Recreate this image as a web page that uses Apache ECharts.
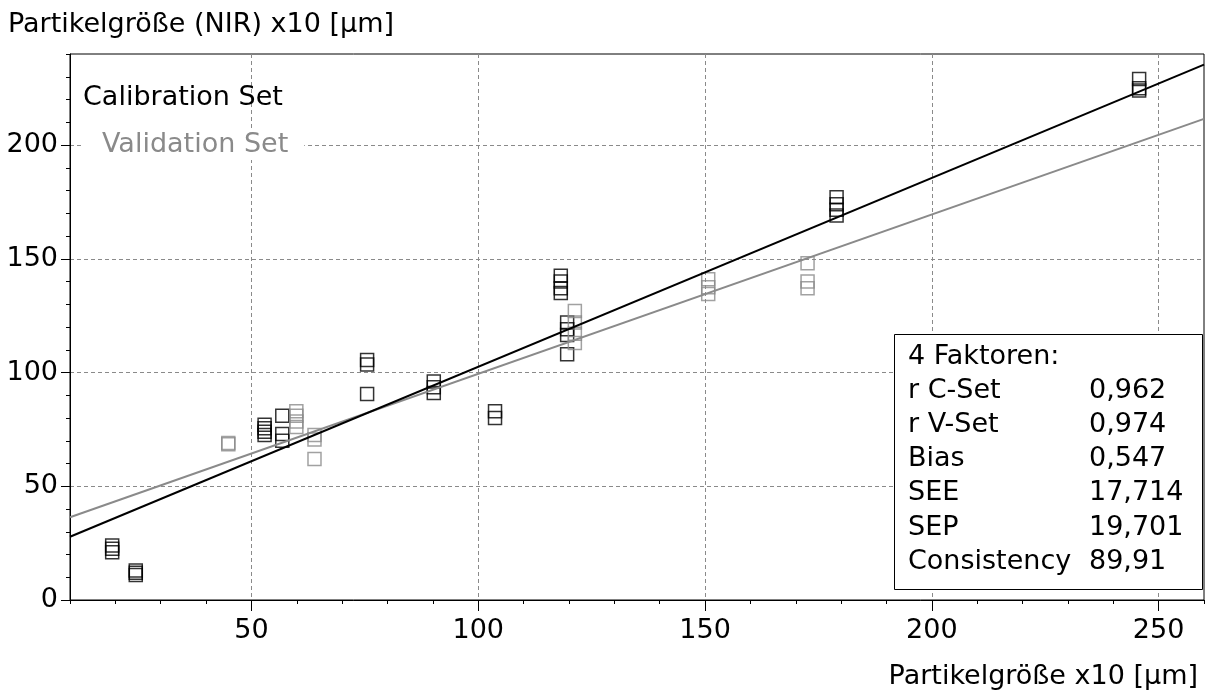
<!DOCTYPE html>
<html>
<head>
<meta charset="utf-8">
<script src="https://cdn.jsdelivr.net/npm/echarts@6/dist/echarts.min.js"></script>
<style>
  html, body { margin: 0; padding: 0; background: #fff; }
  #chart { width: 1207px; height: 695px; }
</style>
</head>
<body>
<div id="chart"></div>
<script>
// Kalibrierung (schwarz) und Validierung (grau), [Referenz, NIR]
const calibrationSet = [
  [19.3, 24], [19.3, 22.5], [19.3, 21],
  [24.5, 13], [24.5, 12], [24.5, 11],
  [52.9, 77], [52.9, 75.5], [52.9, 74], [52.9, 72.5],
  [56.8, 81], [56.8, 73], [56.8, 70],
  [75.5, 105.5], [75.5, 103.5], [75.5, 90.5],
  [90.2, 96], [90.2, 93.5], [90.2, 91],
  [103.7, 83], [103.7, 80],
  [118.2, 142.5], [118.2, 140], [118.2, 137], [118.2, 135],
  [119.6, 122], [119.6, 119], [119.6, 116.5], [119.6, 108],
  [179, 177], [179, 174], [179, 171.5], [179, 169],
  [245.7, 229], [245.7, 225], [245.7, 224]
]
const validationSet = [
  [44.9, 69], [44.9, 68.5],
  [59.9, 83], [59.9, 81], [59.9, 78.5], [59.9, 76],
  [63.9, 72.5], [63.9, 70.5], [63.9, 62],
  [121.3, 127], [121.3, 122], [121.3, 117], [121.3, 113],
  [150.7, 141], [150.7, 137.5], [150.7, 134.5],
  [172.6, 148], [172.6, 140], [172.6, 137]
]
const calibrationLine = [[10, 27.8], [260, 235.3]]
const validationLine = [[10, 36.4], [260, 211.5]]

const seriesNames = ['Calibration Set', 'Validation Set']
const xTicks = [50, 100, 150, 200, 250]
const yTicks = [0, 50, 100, 150, 200]
const statLabels = ['4 Faktoren:', 'r C-Set', 'r V-Set', 'Bias', 'SEE', 'SEP', 'Consistency']
const statValues = ['', '0,962', '0,974', '0,547', '17,714', '19,701', '89,91']

const FONT = '"DejaVu Sans", Arial, sans-serif'
const FS = 27
const GRID_LINE = { show: true, lineStyle: { color: '#8a8a8a', width: 1, type: [4, 3] } }

const chart = echarts.init(document.getElementById('chart'))

let graphics = [
  { type: 'text', left: 8, top: 11, style: { text: 'Partikelgröße (NIR) x10 [µm]', font: FS + 'px ' + FONT, fill: '#000' } },
  { type: 'text', right: 9, top: 663, style: { text: 'Partikelgröße x10 [µm]', font: FS + 'px ' + FONT, fill: '#000' } },
  { type: 'text', left: 83, top: 84, z: 100,
    style: { text: seriesNames[0], font: FS + 'px ' + FONT, fill: '#000' } },
  { type: 'text', left: 82, top: 129, z: 100,
    style: { text: seriesNames[1], font: FS + 'px ' + FONT, fill: '#8a8a8a', backgroundColor: '#fff', padding: [2, 16, 2, 20] } },
  { type: 'rect', left: 894, top: 334, z: 100,
    shape: { width: 308, height: 255 }, style: { fill: '#fff', stroke: '#000', lineWidth: 1 } }
]
statLabels.forEach(function (lab, i) {
  graphics.push({ type: 'text', left: 908, top: 343 + i * 34.2, z: 101,
    style: { text: lab, font: FS + 'px ' + FONT, fill: '#000' } })
  if (statValues[i]) {
    graphics.push({ type: 'text', left: 1089, top: 343 + i * 34.2, z: 101,
      style: { text: statValues[i], font: FS + 'px ' + FONT, fill: '#000' } })
  }
})

const option = {
  animation: false,
  backgroundColor: '#fff',
  grid: { left: 70, right: 3, top: 54, bottom: 95, show: true, borderColor: '#000', borderWidth: 1 },
  xAxis: [
    {
      type: 'value', min: 10, max: 260, interval: 10, position: 'bottom',
      axisLine: { lineStyle: { color: '#000', width: 1 } },
      axisTick: { length: 4, lineStyle: { color: '#000' } },
      axisLabel: { show: false },
      splitLine: { show: false }
    },
    {
      type: 'value', min: 10, max: 260, position: 'bottom',
      axisLine: { show: false },
      axisTick: { length: 11, customValues: xTicks, lineStyle: { color: '#000' } },
      axisLabel: { customValues: xTicks, color: '#000', fontSize: FS, fontFamily: FONT, margin: 17 },
      splitLine: GRID_LINE
    }
  ],
  yAxis: [
    {
      type: 'value', min: 0, max: 240, interval: 10, position: 'left',
      axisLine: { show: true, lineStyle: { color: '#000', width: 1 } },
      axisTick: { show: true, length: 4, lineStyle: { color: '#000' } },
      axisLabel: { show: false },
      splitLine: { show: false }
    },
    {
      type: 'value', min: 0, max: 240, position: 'left',
      axisLine: { show: false },
      axisTick: { show: true, length: 9, customValues: yTicks, lineStyle: { color: '#000' } },
      axisLabel: { customValues: yTicks, color: '#000', fontSize: FS, fontFamily: FONT, margin: 12 },
      splitLine: GRID_LINE
    }
  ],
  graphic: graphics,
  series: [
    {
      name: seriesNames[0], type: 'scatter', data: calibrationSet,
      symbol: 'rect', symbolSize: 13, z: 3,
      itemStyle: { color: 'rgba(0,0,0,0)', borderColor: '#000', borderWidth: 1.5 }
    },
    {
      name: seriesNames[1], type: 'scatter', data: validationSet,
      symbol: 'rect', symbolSize: 13, z: 3,
      itemStyle: { color: 'rgba(0,0,0,0)', borderColor: '#8a8a8a', borderWidth: 1.5 }
    },
    {
      name: 'calLine', type: 'line', data: calibrationLine, symbol: 'none', z: 5,
      lineStyle: { color: '#000', width: 2 }
    },
    {
      name: 'valLine', type: 'line', data: validationLine, symbol: 'none', z: 4,
      lineStyle: { color: '#8a8a8a', width: 2 }
    }
  ]
}
chart.setOption(option)
</script>
</body>
</html>
